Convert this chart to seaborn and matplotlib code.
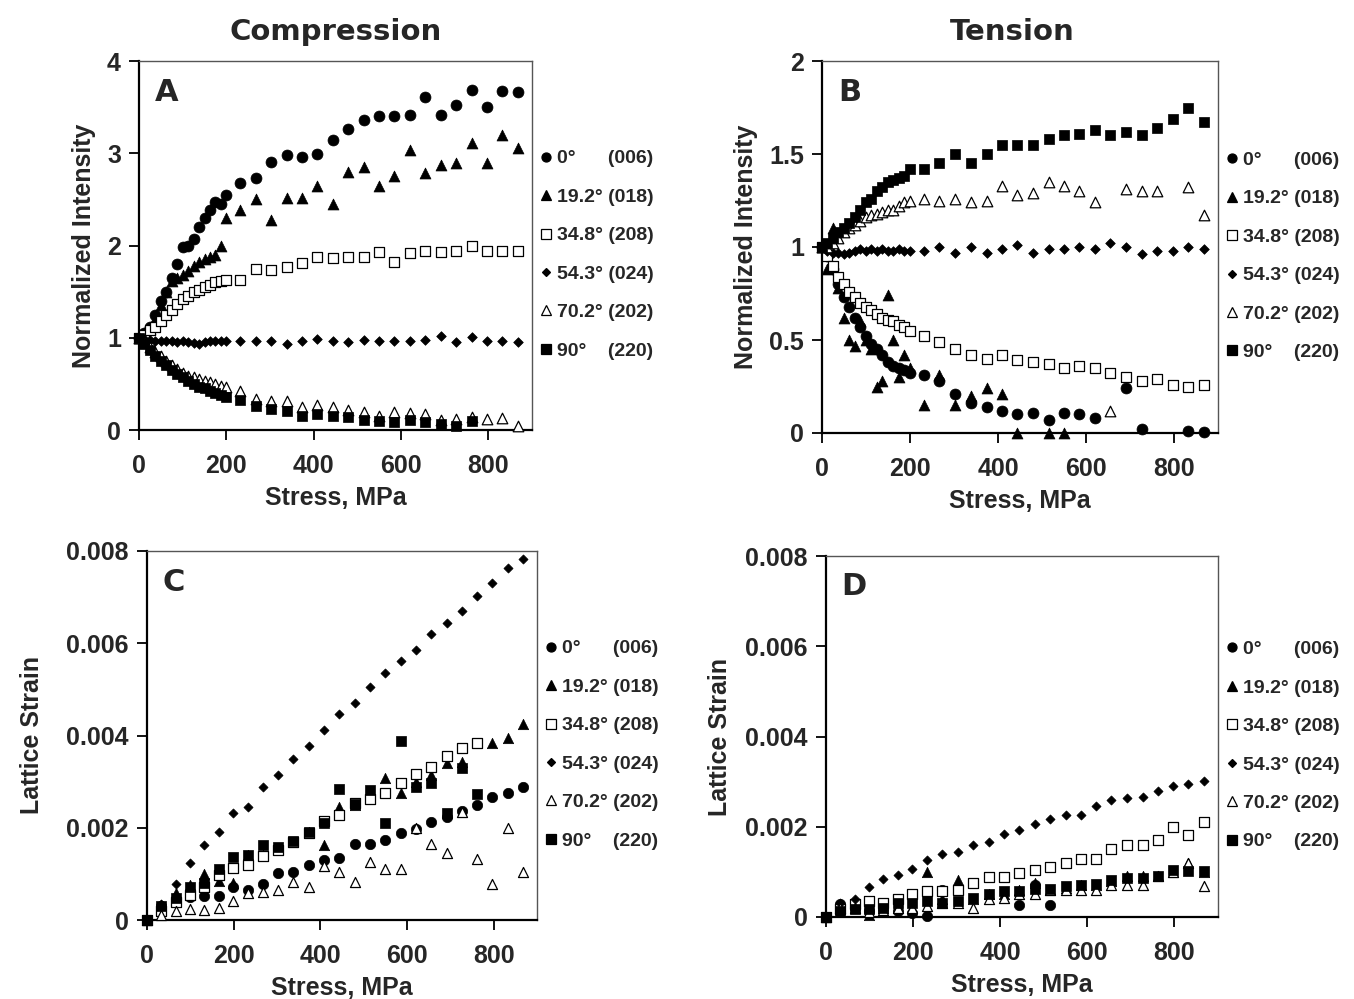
import numpy as np
import matplotlib
matplotlib.use("Agg")
import matplotlib.pyplot as plt
import seaborn as sns
from matplotlib.lines import Line2D

nan = np.nan

# ---------------- data ----------------
# Applied stress (MPa): dense steps up to 200 MPa for the intensity runs
stress_early = [0, 12, 25, 37, 50, 62, 75, 87, 100, 112, 125, 137, 150, 162, 175, 187, 200]
stress_late = [232, 267, 302, 338, 374, 408, 444, 479, 515, 550, 585, 620, 655, 692, 727, 762, 797, 832, 868]
stress_ab = stress_early + stress_late
# Stress steps for the lattice-strain runs
stress_cd = [0, 33, 66, 99, 132, 165, 198, 232, 267, 302, 338, 374, 408, 444, 479,
             515, 550, 585, 620, 655, 692, 727, 762, 797, 832, 868]

angles = ["0°", "19.2°", "34.8°", "54.3°", "70.2°", "90°"]
planes = ["(006)", "(018)", "(208)", "(024)", "(202)", "(220)"]

# A: normalized intensity, compression
a_0 = [1.00, 1.05, 1.12, 1.25, 1.40, 1.50, 1.65, 1.80, 1.98, 2.00, 2.07, 2.20, 2.30, 2.38, 2.47, 2.45, 2.55,
       2.68, 2.73, 2.91, 2.98, 2.96, 2.99, 3.14, 3.26, 3.36, 3.40, 3.40, 3.41, 3.61, 3.42, 3.52, 3.69, 3.50, 3.67, 3.66]
a_19 = [1.00, 1.05, 1.10, 1.20, 1.35, 1.50, 1.62, 1.65, 1.68, 1.72, 1.78, 1.82, 1.85, 1.87, 1.90, 2.00, 2.30,
        2.38, 2.50, 2.28, 2.52, 2.52, 2.64, 2.45, 2.80, 2.85, 2.64, 2.75, 3.03, 2.79, 2.87, 2.89, 3.11, 2.89, 3.20, 3.06]
a_34 = [1.00, 1.03, 1.08, 1.12, 1.18, 1.25, 1.30, 1.37, 1.42, 1.45, 1.50, 1.52, 1.55, 1.57, 1.60, 1.62, 1.63,
        1.63, 1.75, 1.73, 1.77, 1.81, 1.88, 1.86, 1.88, 1.88, 1.93, 1.82, 1.92, 1.94, 1.93, 1.94, 1.99, 1.94, 1.94, 1.94]
a_54 = [1.00, 0.99, 0.98, 0.97, 0.97, 0.96, 0.96, 0.95, 0.96, 0.95, 0.94, 0.93, 0.95, 0.96, 0.97, 0.96, 0.96,
        0.96, 0.96, 0.96, 0.93, 0.96, 0.99, 0.97, 0.95, 0.98, 0.96, 0.96, 0.96, 0.98, 1.02, 0.95, 1.01, 0.96, 0.96, 0.95]
a_70 = [1.00, 0.95, 0.90, 0.85, 0.80, 0.75, 0.70, 0.66, 0.62, 0.59, 0.57, 0.55, 0.53, 0.52, 0.50, 0.48, 0.47,
        0.42, 0.34, 0.31, 0.31, 0.25, 0.27, 0.25, 0.22, 0.19, 0.15, 0.19, 0.18, 0.17, 0.11, 0.12, 0.14, 0.12, 0.13, 0.04]
a_90 = [1.00, 0.93, 0.87, 0.80, 0.75, 0.70, 0.65, 0.61, 0.57, 0.53, 0.50, 0.47, 0.45, 0.42, 0.40, 0.38, 0.36,
        0.33, 0.26, 0.23, 0.21, 0.15, 0.17, 0.15, 0.14, 0.11, 0.10, 0.09, 0.11, 0.09, 0.07, 0.04, 0.10, nan, nan, nan]

# B: normalized intensity, tension
b_0 = [1.00, 0.95, 0.88, 0.80, 0.73, 0.68, 0.62, 0.57, 0.52, 0.48, 0.45, 0.42, 0.38, 0.36, 0.35, 0.34, 0.32,
       0.31, 0.28, 0.21, 0.16, 0.14, 0.12, 0.10, 0.11, 0.07, 0.11, 0.10, 0.08, nan, 0.24, 0.02, nan, nan, 0.01, 0.005]
b_19 = [1.00, 0.88, 1.10, 0.78, 0.62, 0.50, 0.47, 0.60, 0.50, 0.45, 0.25, 0.28, 0.74, 0.50, 0.30, 0.42, 0.35,
        0.15, 0.31, 0.15, 0.20, 0.24, 0.21, 0.00, nan, 0.00, 0.00, nan, nan, nan, nan, nan, nan, nan, nan, nan]
b_34 = [1.00, 0.95, 0.90, 0.84, 0.80, 0.76, 0.73, 0.70, 0.68, 0.66, 0.64, 0.62, 0.61, 0.60, 0.58, 0.57, 0.55,
        0.52, 0.49, 0.45, 0.42, 0.40, 0.42, 0.39, 0.38, 0.37, 0.35, 0.36, 0.35, 0.32, 0.30, 0.28, 0.29, 0.26, 0.25, 0.26]
b_54 = [1.00, 0.98, 0.97, 0.97, 0.96, 0.97, 0.98, 0.99, 0.98, 0.99, 0.98, 0.99, 0.98, 0.98, 0.99, 0.98, 0.98,
        0.98, 1.00, 0.97, 1.00, 0.97, 0.99, 1.01, 0.97, 0.99, 0.99, 1.00, 0.99, 1.02, 1.00, 0.96, 0.98, 0.98, 1.00, 0.99]
b_70 = [1.00, 1.00, 1.02, 1.05, 1.08, 1.10, 1.12, 1.14, 1.16, 1.17, 1.18, 1.19, 1.20, 1.20, 1.22, 1.24, 1.25,
        1.26, 1.25, 1.26, 1.24, 1.25, 1.33, 1.28, 1.29, 1.35, 1.33, 1.30, 1.24, 0.12, 1.31, 1.30, 1.30, nan, 1.32, 1.17]
b_90 = [1.00, 1.02, 1.05, 1.08, 1.10, 1.13, 1.16, 1.20, 1.24, 1.26, 1.30, 1.32, 1.35, 1.36, 1.37, 1.38, 1.42,
        1.42, 1.45, 1.50, 1.45, 1.50, 1.55, 1.55, 1.55, 1.58, 1.60, 1.61, 1.63, 1.60, 1.62, 1.60, 1.64, 1.69, 1.75, 1.67]

# C: lattice strain, compression
c_0 = [0, 0.00030, 0.00045, 0.00050, 0.00052, 0.00053, 0.00072, 0.00066, 0.00077, 0.00101, 0.00103, 0.00119, 0.00130,
       0.00135, 0.00165, 0.00165, 0.00173, 0.00189, 0.00198, 0.00213, 0.00224, 0.00237, 0.00249, 0.00266, 0.00276, 0.00289]
c_19 = [0, 0.00033, 0.00058, 0.00075, 0.00100, 0.00085, 0.00080, 0.00140, 0.00140, 0.00155, 0.00170, 0.00190, 0.00163,
        0.00246, 0.00250, 0.00280, 0.00307, 0.00275, 0.00300, 0.00314, 0.00340, 0.00343, nan, 0.00384, 0.00394, 0.00426]
c_34 = [0, 0.00020, 0.00040, 0.00054, 0.00072, 0.00098, 0.00112, 0.00119, 0.00139, 0.00152, 0.00170, 0.00188, 0.00215,
        0.00228, 0.00253, 0.00262, 0.00276, 0.00298, 0.00316, 0.00332, 0.00355, 0.00372, 0.00384, nan, nan, nan]
c_54 = [0, 0.00035, 0.00079, 0.00124, 0.00162, 0.00191, 0.00233, 0.00246, 0.00288, 0.00314, 0.00350, 0.00377, 0.00413,
        0.00447, 0.00470, 0.00506, 0.00535, 0.00562, 0.00585, 0.00619, 0.00644, 0.00670, 0.00703, 0.00731, 0.00764, 0.00782]
c_70 = [0, 0.00010, 0.00020, 0.00023, 0.00022, 0.00025, 0.00041, 0.00059, 0.00061, 0.00066, 0.00083, 0.00072, 0.00117,
        0.00105, 0.00083, 0.00125, 0.00110, 0.00110, 0.00199, 0.00165, 0.00145, 0.00235, 0.00132, 0.00077, 0.00199, 0.00105]
c_90 = [0, 0.00030, 0.00047, 0.00072, 0.00080, 0.00110, 0.00137, 0.00140, 0.00163, 0.00159, 0.00171, 0.00191, 0.00211,
        0.00285, 0.00251, 0.00282, 0.00210, 0.00387, 0.00288, 0.00296, 0.00233, 0.00330, 0.00273, nan, nan, nan]

# D: lattice strain, tension
d_0 = [0, 0.00028, 0.00020, 0.00013, 0.00017, 0.00013, 0.00008, 0.00003, 0.00060, nan, nan, nan, nan,
       0.00026, 0.00072, 0.00026, nan, nan, nan, nan, nan, nan, nan, nan, nan, nan]
d_19 = [0, 0.00020, 0.00035, 0.00005, 0.00020, 0.00020, 0.00020, 0.00100, 0.00040, 0.00083, 0.00040, 0.00050, 0.00050,
        0.00060, 0.00075, 0.00060, 0.00065, 0.00070, 0.00070, 0.00080, 0.00090, 0.00090, 0.00090, 0.00100, 0.00120, 0.00100]
d_34 = [0, 0.00017, 0.00028, 0.00035, 0.00032, 0.00040, 0.00050, 0.00058, 0.00058, 0.00059, 0.00076, 0.00089, 0.00089,
        0.00098, 0.00104, 0.00111, 0.00119, 0.00128, 0.00129, 0.00150, 0.00159, 0.00159, 0.00170, 0.00199, 0.00181, 0.00210]
d_54 = [0, 0.00030, 0.00040, 0.00067, 0.00085, 0.00094, 0.00107, 0.00126, 0.00139, 0.00145, 0.00159, 0.00167, 0.00183,
        0.00192, 0.00207, 0.00218, 0.00226, 0.00227, 0.00245, 0.00260, 0.00263, 0.00265, 0.00280, 0.00290, 0.00295, 0.00301]
d_70 = [0, 0.00020, 0.00020, 0.00010, 0.00015, 0.00020, 0.00020, 0.00025, 0.00030, 0.00030, 0.00020, 0.00040, 0.00042,
        0.00050, 0.00050, 0.00060, 0.00060, 0.00060, 0.00060, 0.00070, 0.00072, 0.00070, 0.00090, 0.00100, 0.00120, 0.00068]
d_90 = [0, 0.00013, 0.00017, 0.00018, 0.00020, 0.00032, 0.00032, 0.00035, 0.00030, 0.00035, 0.00043, 0.00050, 0.00058,
        0.00058, 0.00061, 0.00063, 0.00069, 0.00070, 0.00074, 0.00082, 0.00087, 0.00087, 0.00091, 0.00105, 0.00102, 0.00103]

# ---------------- styling ----------------
sns.set_theme(style="white")
plt.rcParams["font.family"] = ["Liberation Sans", "DejaVu Sans"]
plt.rcParams["font.weight"] = "bold"

# marker, face colour, marker area (points^2) per reflection
marker_styles = [
    ("o", "black", 62),
    ("^", "black", 62),
    ("s", "white", 50),
    ("D", "black", 24),
    ("^", "white", 58),
    ("s", "black", 50),
]

fig = plt.figure(figsize=(13.54, 9.99), dpi=100)

W, H = 1354.0, 999.0


def make_axes(left, right, top, bottom):
    return fig.add_axes([left / W, 1 - bottom / H, (right - left) / W, (bottom - top) / H])


ax_a = make_axes(139, 532, 61, 430)
ax_b = make_axes(822, 1218, 61, 433)
ax_c = make_axes(147, 537, 551, 920)
ax_d = make_axes(826, 1218, 556, 917)

panels = [
    (ax_a, "A", stress_ab, [a_0, a_19, a_34, a_54, a_70, a_90], (0, 4), [0, 1, 2, 3, 4], ["0", "1", "2", "3", "4"],
     "Normalized Intensity", 1.0, 8),
    (ax_b, "B", stress_ab, [b_0, b_19, b_34, b_54, b_70, b_90], (0, 2), [0, 0.5, 1, 1.5, 2],
     ["0", "0.5", "1", "1.5", "2"], "Normalized Intensity", 1.0, 8),
    (ax_c, "C", stress_cd, [c_0, c_19, c_34, c_54, c_70, c_90], (0, 0.008), [0, 0.002, 0.004, 0.006, 0.008],
     ["0", "0.002", "0.004", "0.006", "0.008"], "Lattice Strain", 0.9, 16),
    (ax_d, "D", stress_cd, [d_0, d_19, d_34, d_54, d_70, d_90], (0, 0.008), [0, 0.002, 0.004, 0.006, 0.008],
     ["0", "0.002", "0.004", "0.006", "0.008"], "Lattice Strain", 0.9, 10),
]

tick_font = 18
label_font = 18

# spacing so the Miller indices line up in one column
pads = ["      ", " ", " ", " ", " ", "    "]
leg_labels = [f"{a}{p}{pl}" for a, p, pl in zip(angles, pads, planes)]

for ax, letter, xs, series, ylim, yticks, yticklabels, ylabel, scale, ypad in panels:
    for ys, (mk, face, size) in zip(series, marker_styles):
        sns.scatterplot(x=xs, y=ys, marker=mk, s=size * scale, color=face, edgecolor="black",
                        linewidth=0.9 if face == "white" else 0.5, ax=ax, clip_on=False, zorder=3)

    ax.set_xlim(0, 900)
    ax.set_ylim(*ylim)
    ax.set_xticks([0, 200, 400, 600, 800])
    ax.set_xticklabels(["0", "200", "400", "600", "800"], fontsize=tick_font, fontweight="bold")
    ax.set_yticks(yticks)
    ax.set_yticklabels(yticklabels, fontsize=tick_font, fontweight="bold")
    ax.tick_params(axis="both", direction="out", length=7, width=1.3, color="black", left=True, bottom=True)
    ax.tick_params(axis="x", pad=10)
    ax.tick_params(axis="y", pad=6)

    for side in ["left", "bottom"]:
        ax.spines[side].set_color("black")
        ax.spines[side].set_linewidth(1.6)
    for side in ["top", "right"]:
        ax.spines[side].set_color("#555555")
        ax.spines[side].set_linewidth(1.0)

    ax.set_xlabel("Stress, MPa", fontsize=label_font, fontweight="bold", labelpad=6)
    ax.set_ylabel(ylabel, fontsize=label_font, fontweight="bold", labelpad=ypad)

    ax.text(0.04, 0.955, letter, transform=ax.transAxes, ha="left", va="top",
            fontsize=22, fontweight="bold", family="DejaVu Sans")

    handles = [
        Line2D([], [], linestyle="", marker=mk, markerfacecolor=face, markeredgecolor="black",
               markeredgewidth=0.9, markersize=6.5 if mk != "D" else 4.5)
        for mk, face, _ in marker_styles
    ]
    leg = ax.legend(handles, leg_labels, loc="center left", bbox_to_anchor=(1.0, 0.475),
                    frameon=False, fontsize=14, handlelength=0.6, handletextpad=0.3,
                    borderaxespad=0.4, borderpad=0.0, labelspacing=1.07)
    for t in leg.get_texts():
        t.set_fontweight("bold")

fig.text(336 / W, 1 - 32 / H, "Compression", ha="center", va="center",
         fontsize=21, fontweight="bold", family="DejaVu Sans")
fig.text(1012 / W, 1 - 32 / H, "Tension", ha="center", va="center",
         fontsize=21, fontweight="bold", family="DejaVu Sans")

fig.savefig("out.png", dpi=100)
